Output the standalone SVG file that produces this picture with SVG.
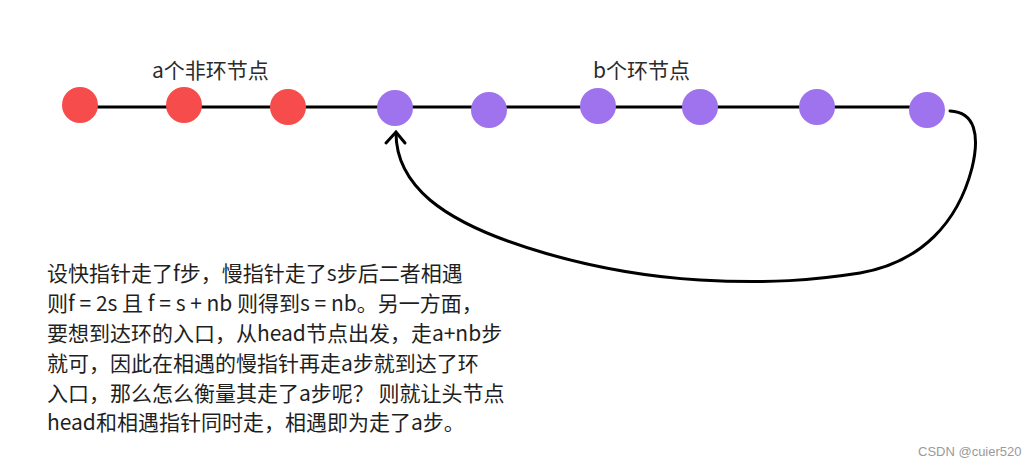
<svg xmlns="http://www.w3.org/2000/svg" width="1036" height="466" viewBox="0 0 1036 466">
<style>
.txt{font-family:"Noto Sans CJK SC","Noto Sans",sans-serif;font-size:21px;fill:#1f1f1f}
.lbl{font-family:"Noto Sans CJK SC","Noto Sans",sans-serif;font-size:21px;fill:#2b2b2b}
.red{fill:#f64c4c}
.pur{fill:#9f72ee}
.edge{stroke:#000;stroke-width:3;fill:none;stroke-linecap:round}
.wm{font-family:"Liberation Sans",Arial,sans-serif;font-size:13px;fill:#9a9a9a}
</style>
<rect width="1036" height="466" fill="#fff"/>
<g id="connectors">
<line class="edge" x1="80" y1="107" x2="927" y2="107"/>
<path class="edge" d="M 950 111 C 975 112, 980 135, 972 168 C 958 222, 922 262, 860 273 C 815 280, 770 284, 700 280 C 600 274, 480 242, 430 200 C 402 176, 396 152, 396 133"/>
<path class="edge" d="M 386 143 L 396 132 L 405 143"/>
</g>
<g id="n1"><circle class="red" cx="80" cy="105" r="18"/></g>
<g id="n2"><circle class="red" cx="184" cy="105" r="18"/></g>
<g id="n3"><circle class="red" cx="288" cy="107" r="18"/></g>
<g id="n4"><circle class="pur" cx="395" cy="108" r="18"/></g>
<g id="n5"><circle class="pur" cx="489" cy="110" r="18"/></g>
<g id="n6"><circle class="pur" cx="598" cy="106" r="18"/></g>
<g id="n7"><circle class="pur" cx="700" cy="107" r="18"/></g>
<g id="n8"><circle class="pur" cx="817" cy="107" r="18"/></g>
<g id="n9"><circle class="pur" cx="927" cy="110" r="18"/></g>
<g id="labels">
<text class="lbl" x="152" y="78">a个非环节点</text>
<text class="lbl" x="593" y="78">b个环节点</text>
</g>
<g id="note">
<text class="txt" x="47" y="281">设快指针走了f步，慢指针走了s步后二者相遇</text>
<text class="txt" x="47" y="311">则f = 2s 且 f = s + nb 则得到s = nb。另一方面，</text>
<text class="txt" x="47" y="341">要想到达环的入口，从head节点出发，走a+nb步</text>
<text class="txt" x="47" y="371">就可，因此在相遇的慢指针再走a步就到达了环</text>
<text class="txt" x="47" y="401">入口，那么怎么衡量其走了a步呢？ 则就让头节点</text>
<text class="txt" x="47" y="430">head和相遇指针同时走，相遇即为走了a步。</text>
</g>
<text class="wm" x="918" y="456">CSDN @cuier520</text>
</svg>
